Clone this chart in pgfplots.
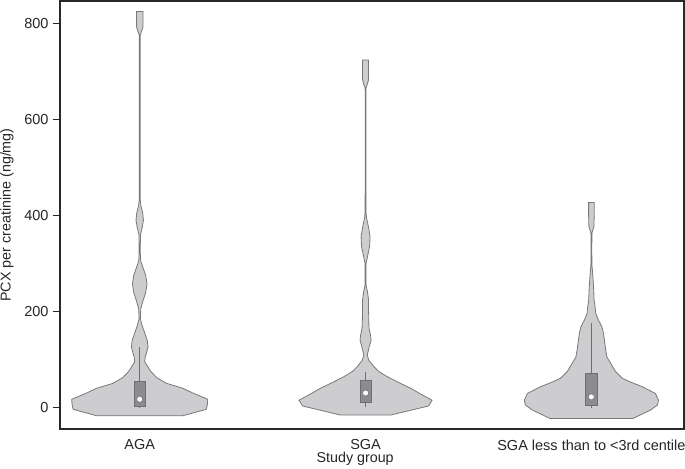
\documentclass[border=0pt]{standalone}
\usepackage{pgfplots}
\pgfplotsset{compat=1.18}
\usepackage{pgfplotstable}
\usetikzlibrary{calc}
\usepackage{fontspec}
\setmainfont{Liberation Sans}
\definecolor{violinfill}{RGB}{205,205,207}
\definecolor{violinedge}{RGB}{120,120,122}
\definecolor{boxfill}{RGB}{140,140,143}
\definecolor{boxedge}{RGB}{110,110,112}
\definecolor{framec}{RGB}{40,40,40}

% y value, half-width in pixels (225.7 px = 1 x unit)
\pgfplotstableread{
y w
-17.5 43
-4 66.5
5 67.5
17 68
30 53
40 43
50 27
62 17
75 11
85 8
95 5
105 5.5
115 7
126 8.3
140 7.5
155 5
170 2.5
185 0.6
205 1
220 3
240 6
258 7.3
275 6
290 3.5
305 1
320 0.6
340 0.6
360 0.8
375 2.5
390 3.7
405 3
420 1.2
432 0.5
450 0.4
600 0.4
770 0.4
776 0.5
785 2
794 3.3
810 3.3
825 3.3
}\aga
\pgfplotstableread{
y w
-16 25
3 63
15 66.5
28 55
40 45
52 33
64 21.7
75 13
85 8.3
98 3.3
109 1.7
125 3.5
140 5.5
150 5
165 3.5
175 3.3
200 3
224 3
240 2
255 0.5
300 0.5
315 2
335 4
356 4.5
375 3
395 1
405 0.5
450 0.4
660 0.4
666 0.5
675 2
683 3
700 3
724 3
}\sga
\pgfplotstableread{
y w
-23 41.5
-5.6 59
5 66
15 67
29 64
43 51
52 40
60.5 31
75 24
91.7 19.3
105 15.5
119.5 14.3
140 13
155 12
168 10.5
182 7
196 4.3
210 3.7
224 2.7
245 2.3
266 1.7
280 1.2
297 0.5
330 0.4
363 0.5
370 1.5
377 2.5
400 2.8
427 2.8
}\sgathree

% build closed outlines: right side upwards, then left side downwards
\pgfplotstablegetrowsof{\aga}\edef\naga{\pgfplotsretval}
\pgfplotstablesort[sort key=y, sort cmp=float >]{\agadesc}{\aga}
\pgfplotstablevertcat{\aga}{\agadesc}
\pgfplotstablegetrowsof{\sga}\edef\nsga{\pgfplotsretval}
\pgfplotstablesort[sort key=y, sort cmp=float >]{\sgadesc}{\sga}
\pgfplotstablevertcat{\sga}{\sgadesc}
\pgfplotstablegetrowsof{\sgathree}\edef\nsgathree{\pgfplotsretval}
\pgfplotstablesort[sort key=y, sort cmp=float >]{\sgathreedesc}{\sgathree}
\pgfplotstablevertcat{\sgathree}{\sgathreedesc}

\begin{document}
\begin{tikzpicture}
\begin{axis}[
  scale only axis,
  width=624pt, height=428pt,
  xmin=0.647, xmax=3.41,
  ymin=-45, ymax=847,
  axis line style={framec, line width=1.2pt},
  xtick={1,2,3},
  xticklabels={AGA, SGA, SGA less than to <3rd centile},
  ytick={0,200,400,600,800},
  ytick pos=left,
  xtick pos=bottom,
  tick align=outside,
  major tick length=7pt,
  xtick style={draw=none},
  ytick style={framec, line width=0.9pt},
  /pgf/number format/assume math mode=true,
  ticklabel style={font=\fontsize{14.5}{16}\selectfont, text=black!85},
  yticklabel style={xshift=-1pt},
  label style={font=\fontsize{14.3}{16}\selectfont, text=black!85},
  xlabel={Study group},
  ylabel={PCX per creatinine (ng/mg)},
  xlabel style={at={(axis description cs:0.473,0)}, anchor=north, yshift=-20pt},
  ylabel style={at={(axis description cs:-0.0849,0.5)}, anchor=center},
  clip=false,
]
% violins
\addplot[fill=violinfill, draw=violinedge, line width=0.8pt]
  table[x expr={\coordindex<\naga ? 1+\thisrow{w}/225.7 : 1-\thisrow{w}/225.7}, y=y]{\aga} --cycle;
\addplot[fill=violinfill, draw=violinedge, line width=0.8pt]
  table[x expr={\coordindex<\nsga ? 2+\thisrow{w}/225.7 : 2-\thisrow{w}/225.7}, y=y]{\sga} --cycle;
\addplot[fill=violinfill, draw=violinedge, line width=0.8pt]
  table[x expr={\coordindex<\nsgathree ? 3+\thisrow{w}/225.7 : 3-\thisrow{w}/225.7}, y=y]{\sgathree} --cycle;
% whiskers
\addplot[boxedge, line width=0.9pt] coordinates {(1,-1) (1,125)};
\addplot[boxedge, line width=0.9pt] coordinates {(2,0) (2,74)};
\addplot[boxedge, line width=0.9pt] coordinates {(3,-1) (3,175)};
% boxes
\addplot[fill=boxfill, draw=boxedge, line width=0.6pt] coordinates {(0.9756,1.3) (1.0244,1.3) (1.0244,55) (0.9756,55)} --cycle;
\addplot[fill=boxfill, draw=boxedge, line width=0.6pt] coordinates {(1.9747,10.4) (2.0253,10.4) (2.0253,57) (1.9747,57)} --cycle;
\addplot[fill=boxfill, draw=boxedge, line width=0.6pt] coordinates {(2.9743,4.8) (3.0257,4.8) (3.0257,71) (2.9743,71)} --cycle;
% medians
\addplot[only marks, mark=*, mark size=3pt, mark options={fill=white, draw=boxedge, line width=0.5pt}] coordinates {(1,17) (2,30) (3,22)};
\end{axis}
\pgfresetboundingbox
\path[use as bounding box] ($(current axis.south west)+(-60pt,-40pt)$) rectangle ($(current axis.north east)+(1pt,1pt)$);
\end{tikzpicture}
\end{document}
